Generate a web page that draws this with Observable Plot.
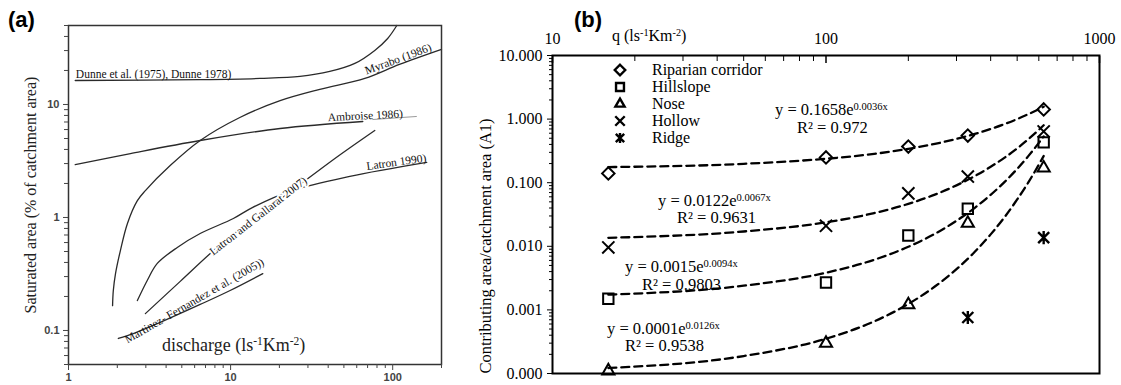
<!DOCTYPE html>
<html><head><meta charset="utf-8">
<script src="https://cdn.jsdelivr.net/npm/d3@7"></script>
<script src="https://cdn.jsdelivr.net/npm/@observablehq/plot@0.6"></script>
<style>
body{margin:0;background:#fff;}
#wrap{position:relative;width:1121px;height:385px;overflow:hidden;font-family:"Liberation Serif","Times New Roman",serif;color:#000;}
.abs{position:absolute;white-space:nowrap;line-height:1;}
sup{font-size:0.64em;vertical-align:0;position:relative;top:-0.48em;}
.panel{position:absolute;top:0;}
.panel svg{overflow:visible;}
</style></head><body>
<div id="wrap"></div>
<script>
const SERIF = "'Liberation Serif','Times New Roman',serif";
const SANS = "'Liberation Sans',Arial,sans-serif";

// ---------------- Panel (a) data: discharge vs saturated area (%) ----------------
const dunneQ    = [1.1, 6.5, 15.2, 26.8, 40.9, 58.4, 77.5, 93.1, 106];
const dunneA    = [16.3, 16.6, 17.0, 17.7, 19.6, 23.1, 30.1, 38.4, 50];
const myraboQ   = [1.87, 1.89, 1.95, 2.09, 2.31, 2.66, 2.98, 4.24, 6.49, 11.4, 20.2, 35.5, 67.3, 110, 200];
const myraboA   = [0.166, 0.226, 0.319, 0.51, 0.886, 1.41, 1.73, 2.88, 4.8, 7.67, 10.8, 13.6, 17.0, 22.6, 30.7];
const ambroiseQ = [1.1, 2.41, 6.49, 20.2, 65.4];
const ambroiseA = [2.94, 3.68, 4.80, 6.13, 7.07];
const ambroiseExtQ = [75.3, 140];
const ambroiseExtA = [7.36, 7.83];
const latron90Q = [2.66, 3.06, 3.53, 4.69, 6.49, 10.4, 13.7, 23.9, 54.4, 162];
const latron90A = [0.184, 0.277, 0.392, 0.543, 0.721, 0.98, 1.23, 1.73, 2.31, 3.07];
const latronGQ  = [2.98, 4.89, 8.26, 14.2, 23.9, 44, 77.5];
const latronGA  = [0.141, 0.272, 0.543, 1.0, 1.73, 3.33, 5.89];
const martinezQ = [2.03, 2.51, 3.68, 6.49, 9.93, 15.8];
const martinezA = [0.085, 0.094, 0.118, 0.170, 0.226, 0.319];
const curveNamesA = ["Dunne et al. (1975), Dunne 1978)", "Myrabo (1986)", "Ambroise 1986)", "Latron 1990)", "Latron and Gallarat 2007)", "Martinez- Fernandez et al. (2005))"];
const xTicksA = [1, 10, 100];
const xTickLabelsA = ["1", "10", "100"];
const yTicksA = [0.1, 1, 10];
const yTickLabelsA = ["0.1", "1", "10"];

// ---------------- Panel (b) data: q vs contributing area / catchment area ----------------
const categories = ["Riparian corridor", "Hillslope", "Nose", "Hollow", "Ridge"];
const q = [16, 100, 200, 330, 625];
const riparian  = [0.14, 0.25, 0.37, 0.55, 1.42];
const hillslope = [0.0015, 0.0027, 0.0148, 0.039, 0.43];
const nose      = [0.00011, 0.0003, 0.0012, 0.023, 0.17];
const hollow    = [0.0096, 0.021, 0.068, 0.125, 0.64];
const ridgeQ    = [330, 625];
const ridge     = [0.00076, 0.0137];
const fitQ         = [16, 50, 100, 150, 200, 250, 300, 350, 400, 450, 500, 550, 600, 625];
const fitRiparian  = [0.176, 0.198, 0.238, 0.284, 0.341, 0.408, 0.488, 0.584, 0.699, 0.837, 1.00, 1.20, 1.43, 1.57];
const fitHollow    = [0.0136, 0.0171, 0.0238, 0.0333, 0.0465, 0.065, 0.0909, 0.127, 0.178, 0.248, 0.347, 0.485, 0.678, 0.80];
const fitHillslope = [0.00174, 0.0024, 0.00384, 0.00614, 0.00983, 0.0157, 0.0252, 0.0403, 0.0645, 0.103, 0.165, 0.264, 0.423, 0.535];
const fitNose      = [0.000122, 0.000188, 0.000352, 0.00066, 0.00124, 0.00233, 0.00437, 0.0082, 0.0154, 0.0289, 0.0545, 0.102, 0.192, 0.263];
const equations = ["y = 0.1658e^0.0036x", "y = 0.0122e^0.0067x", "y = 0.0015e^0.0094x", "y = 0.0001e^0.0126x"];
const r2Labels  = ["R² = 0.972", "R² = 0.9631", "R² = 0.9803", "R² = 0.9538"];
const xTicksB = [10, 100, 1000];
const xTickLabelsB = ["10", "100", "1000"];
const yTicksB = [0.0001, 0.001, 0.01, 0.1, 1, 10];
const yTickLabelsB = ["0.000", "0.001", "0.010", "0.100", "1.000", "10.000"];

// minor tick positions (2..9 within each decade)
function minorTicks(lo, hi) {
  const out = [];
  for (let p = lo; p < hi; p *= 10) for (let m = 2; m <= 9; m++) out.push(+(m * p).toPrecision(3));
  return out;
}

const wrap = document.getElementById("wrap");

// ================= Panel (a) =================
const toRows = (name, xs, ys) => xs.map((x, i) => ({name, x, y: ys[i]}));
const curvesA = [
  ...toRows(curveNamesA[0], dunneQ, dunneA),
  ...toRows(curveNamesA[1], myraboQ, myraboA),
  ...toRows(curveNamesA[2], ambroiseQ, ambroiseA),
  ...toRows(curveNamesA[3], latron90Q, latron90A),
  ...toRows(curveNamesA[4], latronGQ, latronGA),
  ...toRows(curveNamesA[5], martinezQ, martinezA)
];
const labelsA = [
  {text: curveNamesA[0], x: 3.35, y: 16.5, r: 0},
  {text: curveNamesA[1], x: 110, y: 22.6, r: -20},
  {text: curveNamesA[2], x: 68, y: 7.1, r: -3},
  {text: curveNamesA[3], x: 106, y: 2.75, r: -8},
  {text: curveNamesA[5], x: 6.13, y: 0.165, r: -30}
];
const yMinorA = [0.05,0.06,0.07,0.08,0.09, ...minorTicks(0.1, 10), 20, 30, 40, 50];
const xMinorA = [...minorTicks(1, 100), 200];

const plotA = Plot.plot({
  width: 460, height: 385,
  marginLeft: 68, marginRight: 19, marginTop: 25, marginBottom: 21,
  x: {type: "log", domain: [1, 200]},
  y: {type: "log", domain: [0.05, 50]},
  style: {background: "transparent", overflow: "visible"},
  marks: [
    Plot.line(curvesA, {x: "x", y: "y", z: "name", stroke: "#2a2a2a", strokeWidth: 1.3, curve: "catmull-rom"}),
    Plot.line(toRows("ext", ambroiseExtQ, ambroiseExtA), {x: "x", y: "y", stroke: "#9a9a9a", strokeWidth: 1}),
    Plot.text(labelsA, {x: "x", y: "y", text: "text", rotate: "r", dy: -2, textAnchor: "middle", lineAnchor: "bottom", fontFamily: SERIF, fontSize: 11.5, fill: "#111"}),
    Plot.text([{text: curveNamesA[4], x: 14.8, y: 1.03}], {x: "x", y: "y", text: "text", rotate: -38, textAnchor: "middle", lineAnchor: "middle", fontFamily: SERIF, fontSize: 11.5, fill: "#111", stroke: "white", strokeWidth: 4}),
    Plot.frame({stroke: "#333", strokeWidth: 1.5}),
    Plot.axisY({ticks: yTicksA, tickSize: 5, tickPadding: 4, tickFormat: d => yTickLabelsA[yTicksA.indexOf(d)], fontFamily: SANS, fontWeight: "bold", fontSize: 11, color: "#444", label: null}),
    Plot.axisY({ticks: yMinorA, tickSize: 4, tickFormat: () => "", color: "#444", label: null}),
    Plot.axisX({ticks: xTicksA, tickSize: 6, tickPadding: 3, tickFormat: d => xTickLabelsA[xTicksA.indexOf(d)], fontFamily: SANS, fontWeight: "bold", fontSize: 11, color: "#444", label: null}),
    Plot.axisX({ticks: xMinorA, tickSize: 4, tickFormat: () => "", color: "#444", label: null})
  ]
});
const pa = document.createElement("div");
pa.className = "panel"; pa.style.left = "0px";
pa.appendChild(plotA);
wrap.appendChild(pa);

// ================= Panel (b) =================
const pointRows = [
  ...toRows(categories[0], q, riparian),
  ...toRows(categories[1], q, hillslope),
  ...toRows(categories[2], q, nose),
  ...toRows(categories[3], q, hollow),
  ...toRows(categories[4], ridgeQ, ridge)
];
const fitRows = [
  ...toRows(categories[0], fitQ, fitRiparian),
  ...toRows(categories[1], fitQ, fitHillslope),
  ...toRows(categories[2], fitQ, fitNose),
  ...toRows(categories[3], fitQ, fitHollow)
];
// ridge marker: an X crossed by a vertical bar
const ridgeSymbol = {
  draw(ctx, size) {
    const r = Math.sqrt(size) * 0.5, v = r * 1.2;
    ctx.moveTo(-r, -r); ctx.lineTo(r, r);
    ctx.moveTo(-r, r); ctx.lineTo(r, -r);
    ctx.moveTo(0, -v); ctx.lineTo(0, v);
  }
};
const symbolOf = {"Riparian corridor": d3.symbolDiamond2, "Hillslope": d3.symbolSquare2, "Nose": d3.symbolTriangle2, "Hollow": d3.symbolTimes, "Ridge": ridgeSymbol};
const radiusOf = {"Riparian corridor": 5.6, "Hillslope": 6.6, "Nose": 5.8, "Hollow": 5.6, "Ridge": 6.2};

const plotB = Plot.plot({
  width: 651, height: 385,
  marginLeft: 82, marginRight: 22, marginTop: 55, marginBottom: 12,
  x: {type: "log", domain: [10, 1000]},
  y: {type: "log", domain: [0.0001, 10]},
  style: {background: "transparent", overflow: "visible"},
  marks: [
    Plot.line(fitRows, {x: "x", y: "y", z: "name", stroke: "#000", strokeWidth: 2.3, strokeDasharray: "8,5", curve: "monotone-x"}),
    ...categories.map(c => Plot.dot(pointRows.filter(d => d.name === c), {x: "x", y: "y", symbol: symbolOf[c], r: radiusOf[c], stroke: "#000", strokeWidth: c === "Ridge" ? 2.4 : 2, fill: "none"})),
    Plot.frame({stroke: "#000", strokeWidth: 2}),
    Plot.axisX({anchor: "top", ticks: xTicksB, tickSize: 0, tickPadding: 12, tickFormat: d => xTickLabelsB[xTicksB.indexOf(d)], fontFamily: SERIF, fontSize: 16, color: "#000", label: null}),
    Plot.axisX({anchor: "top", ticks: xTicksB, tickSize: -7, tickFormat: () => "", color: "#000", strokeWidth: 1.5, label: null}),
    Plot.axisX({anchor: "top", ticks: minorTicks(10, 1000), tickSize: -5, tickFormat: () => "", color: "#000", label: null}),
    Plot.axisY({ticks: yTicksB, tickSize: 5, tickPadding: 5, tickFormat: d => yTickLabelsB[yTicksB.indexOf(d)], fontFamily: SERIF, fontSize: 16, color: "#000", label: null}),
    Plot.axisY({ticks: minorTicks(0.0001, 10), tickSize: 3, tickFormat: () => "", color: "#000", label: null})
  ]
});
const pb = document.createElement("div");
pb.className = "panel"; pb.style.left = "470px";
pb.appendChild(plotB);
wrap.appendChild(pb);

// ================= Text overlays =================
function sup(s) { return s.replace(/\^(\S+)/g, "<sup>$1</sup>"); }
function addText(html, left, top, style) {
  const d = document.createElement("div");
  d.className = "abs";
  d.style.left = left + "px"; d.style.top = top + "px";
  Object.assign(d.style, style || {});
  d.innerHTML = html;
  wrap.appendChild(d);
  return d;
}
function addRotated(text, cx, cy, style) {
  const d = addText(text, cx, cy, style);
  d.style.transform = "translate(-50%,-50%) rotate(-90deg)";
  return d;
}
// panel letters
addText("(a)", 8, 9, {fontFamily: SANS, fontWeight: "bold", fontSize: "22px"});
addText("(b)", 574, 9, {fontFamily: SANS, fontWeight: "bold", fontSize: "22px"});
// panel (a) axis titles
addRotated("Saturated area (% of catchment area)", 31, 195, {fontFamily: SERIF, fontSize: "16px", color: "#222"});
addText("discharge (ls<sup>-1</sup>Km<sup>-2</sup>)", 162, 336, {fontFamily: SERIF, fontSize: "18px", color: "#222"});
// panel (b) axis titles
addText("q (ls<sup>-1</sup>Km<sup>-2</sup>)", 612, 28, {fontFamily: SERIF, fontSize: "16px"});
addRotated("Contributing area/catchment area (A1)", 486, 246, {fontFamily: SERIF, fontSize: "16.5px"});
// equations
const eqPos = [[775, 102, 797, 120], [658, 193, 677, 210], [625, 259, 642, 277], [607, 321, 625, 338]];
equations.forEach((e, i) => {
  const p = eqPos[i];
  addText(sup(e), p[0], p[1], {fontFamily: SERIF, fontSize: "16.5px"});
  addText(r2Labels[i], p[2], p[3], {fontFamily: SERIF, fontSize: "16.5px"});
});
// legend
const legendSize = {"Riparian corridor": 70, "Hillslope": 80, "Nose": 60, "Hollow": 60, "Ridge": 70};
categories.forEach((c, i) => {
  const top = 61.6 + i * 17;
  addText(c, 652, top, {fontFamily: SERIF, fontSize: "16px"});
  const ns = "http://www.w3.org/2000/svg";
  const svg = document.createElementNS(ns, "svg");
  svg.setAttribute("width", 16); svg.setAttribute("height", 16);
  svg.style.position = "absolute";
  svg.style.left = (620 - 8) + "px"; svg.style.top = (top + 7.9 - 8) + "px";
  const path = document.createElementNS(ns, "path");
  path.setAttribute("d", d3.symbol(symbolOf[c], legendSize[c])());
  path.setAttribute("transform", "translate(8,8)");
  path.setAttribute("fill", "none"); path.setAttribute("stroke", "#000"); path.setAttribute("stroke-width", 2.4);
  svg.appendChild(path);
  wrap.appendChild(svg);
});
</script>
</body></html>
